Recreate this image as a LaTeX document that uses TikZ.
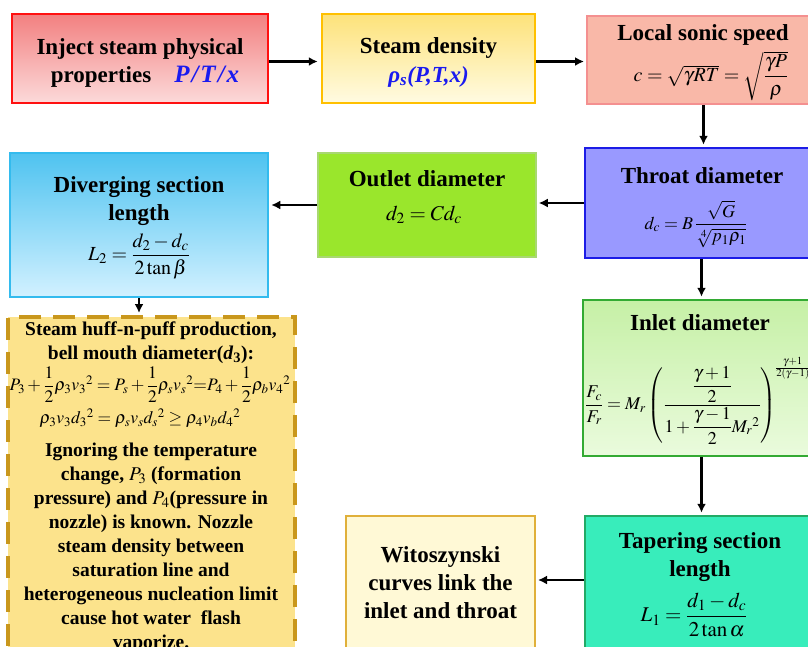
\documentclass[tikz,border=0pt]{standalone}
\usepackage{amsmath}
\usepackage{mathptmx}
\usepackage[no-math]{fontspec}
\setmainfont{Liberation Serif}
\usetikzlibrary{arrows.meta}
\definecolor{mblue}{HTML}{1A1AF0}
\definecolor{bdA}{HTML}{FF1010}
\definecolor{fA1}{HTML}{F28080}
\definecolor{fA2}{HTML}{FCDADA}
\definecolor{bdB}{HTML}{FFC000}
\definecolor{fB1}{HTML}{FDE27A}
\definecolor{fB2}{HTML}{FFFBE2}
\definecolor{bdC}{HTML}{F49090}
\definecolor{fC}{HTML}{F9B8A8}
\definecolor{bdD}{HTML}{1C1CE6}
\definecolor{fD}{HTML}{9999FF}
\definecolor{bdE}{HTML}{A8D870}
\definecolor{fE}{HTML}{9AE62C}
\definecolor{bdF}{HTML}{33BBEE}
\definecolor{fF1}{HTML}{4FC3F0}
\definecolor{fF2}{HTML}{D2F1FF}
\definecolor{bdG}{HTML}{C9971C}
\definecolor{fG}{HTML}{FCE38C}
\definecolor{bdH}{HTML}{33AA33}
\definecolor{fH1}{HTML}{C6F0A6}
\definecolor{fH2}{HTML}{EAFBDD}
\definecolor{bdI}{HTML}{22AA66}
\definecolor{fI}{HTML}{38EDBB}
\definecolor{bdJ}{HTML}{E0B03A}
\definecolor{fJ}{HTML}{FFF9D6}
\begin{document}
\begin{tikzpicture}[x=1pt,y=-1pt,
  box/.style={draw, inner sep=0pt, line width=2.5pt},
  ttl/.style={font=\fontsize{23}{28}\selectfont\bfseries, align=center, inner sep=0pt},
  body/.style={font=\fontsize{19.5}{24}\selectfont\bfseries, align=center, inner sep=0pt, anchor=north},
  mth/.style={font=\fontsize{#1}{#1}\selectfont, inner sep=0pt},
  arr/.style={-{Latex[length=9pt,width=9pt]}, line width=2.4pt},
]
\useasboundingbox (0,0) rectangle (808,646);
% boxes
\node[box, draw=bdA, top color=fA1, bottom color=fA2, minimum width=256pt, minimum height=89pt] (b1) at (140,58.5) {};
\node[box, draw=bdB, top color=fB1, bottom color=fB2, minimum width=213pt, minimum height=89pt] (b2) at (428.5,58.5) {};
\node[box, draw=bdC, line width=2pt, fill=fC, minimum width=233pt, minimum height=88pt] (b3) at (703.5,60) {};
\node[box, draw=bdD, fill=fD, minimum width=235pt, minimum height=110pt] (b4) at (702.5,203) {};
\node[box, draw=bdE, line width=1.5pt, fill=fE, minimum width=218pt, minimum height=104pt] (b5) at (427,205) {};
\node[box, draw=bdF, top color=fF1, bottom color=fF2, minimum width=258pt, minimum height=144pt] (b6) at (139,225) {};
\node[box, draw=bdG, fill=fG, line width=4pt, dash pattern=on 22pt off 12pt, minimum width=287pt, minimum height=343pt] (b7) at (151.5,488.5) {};
\node[box, draw=bdH, top color=fH1, bottom color=fH2, minimum width=237pt, minimum height=156pt] (b8) at (701.5,378) {};
\node[box, draw=bdI, fill=fI, minimum width=235pt, minimum height=144pt] (b9) at (702.5,588) {};
\node[box, draw=bdJ, line width=2pt, fill=fJ, minimum width=189pt, minimum height=144pt] (b10) at (440.5,588) {};
% texts
\node[ttl] (t1) at (140,63) {Inject steam physical\\\hspace*{10pt}properties\quad{\color{mblue}\itshape\fontsize{25}{28}\selectfont P\kern2pt/\kern2ptT\kern2pt/\kern2ptx}};
\node[ttl] (t2) at (428.5,62) {Steam density\\[1pt]{\color{mblue}\itshape ρ\textsubscript{s}(P,T,x)}};
\node[ttl] (t3) at (703,35) {Local sonic speed};
\node[mth=20] (m3) at (711,76) {$c=\sqrt{\gamma RT}=\sqrt{\dfrac{\gamma P}{\rho}}$};
\node[ttl] (t4) at (702,176) {Throat diameter};
\node[mth=18] (m4) at (696,224) {$d_c=B\,\dfrac{\sqrt{G}}{\sqrt[4]{p_1\rho_1}}$};
\node[ttl] (t5) at (427,179) {Outlet diameter};
\node[mth=21] (m5) at (424,215) {$d_2=Cd_c$};
\node[ttl] (t6) at (139,201) {Diverging section\\length};
\node[mth=20] (m6) at (139,256) {$L_2=\dfrac{d_2-d_c}{2\tan\beta}$};
\node[body, font=\fontsize{19.5}{24}\selectfont\bfseries] (t7a) at (151,322)
 {Steam huff-n-puff production,\\
  bell mouth diameter(\textit{d}\textsubscript{3}):};
\node[mth=17.5] (e7a) at (150,385) {$P_3+\dfrac{1}{2}\rho_3v_3{}^2=P_s+\dfrac{1}{2}\rho_sv_s{}^2{=}P_4+\dfrac{1}{2}\rho_bv_4{}^2$};
\node[mth=17.5] (e7b) at (140,418) {$\rho_3v_3d_3{}^2=\rho_sv_sd_s{}^2\ge\rho_4v_bd_4{}^2$};
\node[body] (t7b) at (151,443)
 {Ignoring the temperature\\
  change, {\mdseries$P_3$} (formation\\
  pressure) and {\mdseries$P_4$}(pressure in\\
  nozzle) is known. Nozzle\\
  steam density between\\
  saturation line and\\
  heterogeneous nucleation limit\\
  cause hot water\ \ flash\\
  vaporize.};
\node[ttl] (t8) at (700,323) {Inlet diameter};
\node[mth=18, anchor=west] (m8) at (585,401) {$\dfrac{F_c}{F_r}=M_r\left(\dfrac{\dfrac{\gamma+1}{2}}{1+\dfrac{\gamma-1}{2}M_r{}^2}\right)^{\!\frac{\gamma+1}{2(\gamma-1)}}$};
\node[ttl] (t9) at (700,557) {Tapering section\\length};
\node[mth=21] (m9) at (694,615) {$L_1=\dfrac{d_1-d_c}{2\tan\alpha}$};
\node[ttl] (t10) at (440.5,583) {Witoszynski\\curves link the\\inlet and throat};
% connectors
\draw[arr] ([yshift=-3pt]b1.east) -- ([yshift=-3pt,xshift=-3pt]b1.east -| b2.west);
\draw[arr] ([yshift=-3pt]b2.east) -- ([yshift=-3pt,xshift=-2pt]b2.east -| b3.west);
\draw[arr] (b3.south) -- ([yshift=2pt]b3.south |- b4.north);
\draw[arr] ([yshift=2pt]b5.east -| b4.west) -- ([yshift=2pt,xshift=2pt]b5.east);
\draw[arr] (b5.west) -- ([xshift=2pt]b5.west -| b6.east);
\draw[arr] (b6.south) -- ([yshift=2pt]b6.south |- b7.north);
\draw[arr] (b8.north |- b4.south) -- ([yshift=2pt]b8.north);
\draw[arr] (b8.south) -- ([yshift=2pt]b8.south |- b9.north);
\draw[arr] ([yshift=8pt]b9.west) -- ([yshift=8pt,xshift=2pt]b9.west -| b10.east);
\end{tikzpicture}
\end{document}
